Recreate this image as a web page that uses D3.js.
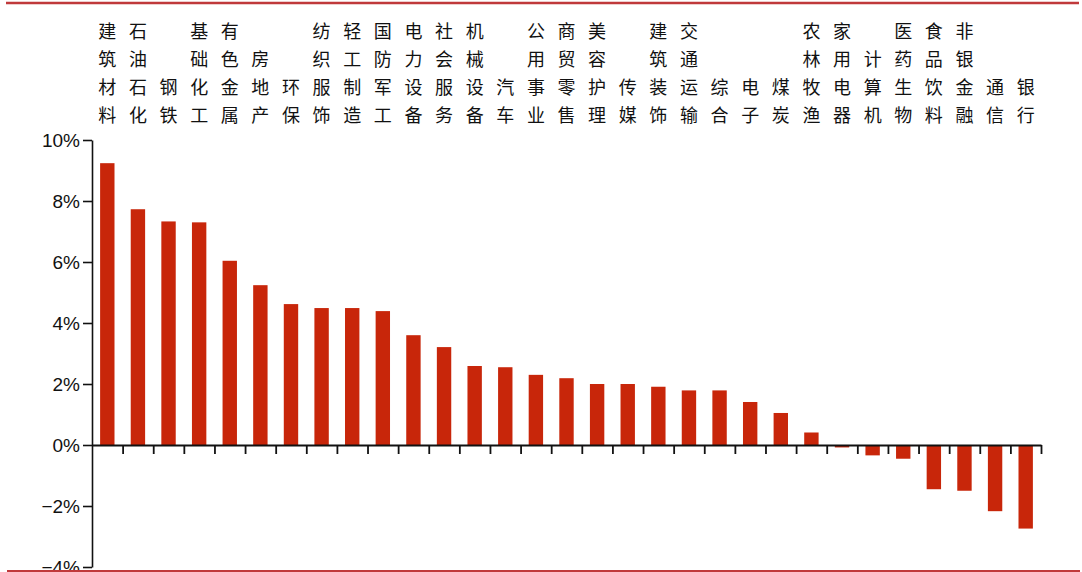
<!DOCTYPE html>
<html>
<head>
<meta charset="utf-8">
<script src="https://cdn.jsdelivr.net/npm/d3@7"></script>
<style>
  body { margin: 0; background: #fff; }
  svg { display: block; }
</style>
</head>
<body>
<svg id="chart"></svg>
<script>
// industries, sorted by return
const categories = ["建筑材料", "石油石化", "钢铁", "基础化工", "有色金属", "房地产", "环保",
  "纺织服饰", "轻工制造", "国防军工", "电力设备", "社会服务", "机械设备", "汽车", "公用事业",
  "商贸零售", "美容护理", "传媒", "建筑装饰", "交通运输", "综合", "电子", "煤炭", "农林牧渔",
  "家用电器", "计算机", "医药生物", "食品饮料", "非银金融", "通信", "银行"];
const values = [9.24, 7.73, 7.33, 7.30, 6.04, 5.24, 4.62, 4.49, 4.49, 4.39, 3.60, 3.21, 2.59,
  2.55, 2.30, 2.19, 2.00, 2.00, 1.91, 1.79, 1.79, 1.41, 1.05, 0.41, -0.08, -0.34, -0.45,
  -1.45, -1.50, -2.17, -2.74];
const yTicks = [-4, -2, 0, 2, 4, 6, 8, 10];

const W = 1082, H = 572;
const margin = {top: 140, right: 41, bottom: 5, left: 92};
const width = W - margin.left - margin.right,
    height = 567 - margin.top;

const svg = d3.select("#chart").attr("width", W).attr("height", H);

// red frame lines top and bottom
svg.append("line").attr("x1", 6).attr("x2", 1079).attr("y1", 3).attr("y2", 3)
    .attr("stroke", "#c0393b").attr("stroke-width", 2.5);

const g = svg.append("g").attr("transform", "translate(" + margin.left + "," + margin.top + ")");

const x = d3.scaleBand().domain(categories).range([0, width]).paddingInner(0.53).paddingOuter(0.265);
const xi = d3.scaleLinear().domain([0, categories.length]).range([0, width]);
const y = d3.scaleLinear().domain([-4, 10]).range([height, 0]);

// bars
g.selectAll("rect.bar")
    .data(values)
    .enter().append("rect")
    .attr("class", "bar")
    .attr("x", (d, i) => x(categories[i]))
    .attr("width", x.bandwidth())
    .attr("y", d => y(Math.max(0, d)))
    .attr("height", d => Math.abs(y(d) - y(0)))
    .attr("fill", "#c8260a");

// y axis
const yAxis = g.append("g")
    .call(d3.axisLeft(y).tickValues(yTicks).tickSize(9).tickPadding(3).tickSizeOuter(0)
      .tickFormat(d => (d < 0 ? "\u2212" + Math.abs(d) : d) + "%"));
yAxis.select(".domain").attr("stroke", "#111").attr("stroke-width", 1.6);
yAxis.selectAll(".tick line").attr("stroke", "#111").attr("stroke-width", 1.6);
yAxis.selectAll("text").attr("font-family", "Liberation Sans, Arial, sans-serif")
    .attr("font-size", 19).attr("fill", "#111");

// x axis along zero, ticks between bars
const xAxis = g.append("g")
    .attr("transform", "translate(0," + y(0) + ")")
    .call(d3.axisBottom(xi).tickValues(d3.range(1, categories.length + 1)).tickSize(9)
      .tickSizeOuter(0).tickFormat(""));
xAxis.select(".domain").attr("stroke", "#111").attr("stroke-width", 1.8);
xAxis.selectAll(".tick line").attr("stroke", "#111").attr("stroke-width", 1.8);

// vertical category labels, bottom aligned
const rowY = [30, 58, 86, 114];
const labels = svg.append("g")
    .attr("font-family", "Noto Sans CJK SC, sans-serif")
    .attr("font-size", 18)
    .attr("fill", "#111");
categories.forEach((c, i) => {
  const chars = c.split("");
  const start = rowY.length - chars.length;
  chars.forEach((ch, j) => {
    labels.append("text")
        .attr("x", margin.left + x(c) + x.bandwidth() / 2)
        .attr("y", rowY[start + j])
        .attr("text-anchor", "middle")
        .attr("dominant-baseline", "central")
        .text(ch);
  });
});

svg.append("line").attr("x1", 7).attr("x2", 1080).attr("y1", 571).attr("y2", 571)
    .attr("stroke", "#c0393b").attr("stroke-width", 2);
</script>
</body>
</html>
